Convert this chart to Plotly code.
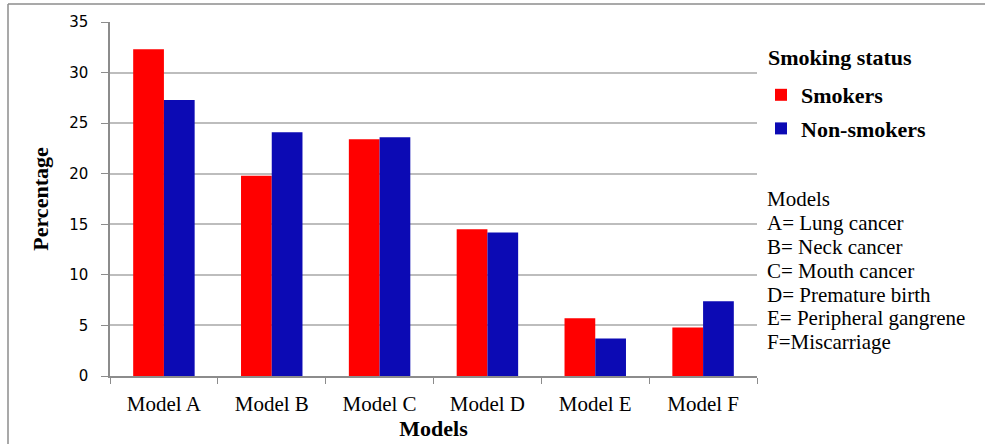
import plotly.graph_objects as go

# Percentages by model and smoking status
models = ["Model A", "Model B", "Model C", "Model D", "Model E", "Model F"]
smokers = [32.3, 19.8, 23.4, 14.5, 5.7, 4.8]
non_smokers = [27.3, 24.1, 23.6, 14.2, 3.7, 7.4]

legend_title = "Smoking status"
model_key_title = "Models"
model_key = [
    "A= Lung cancer",
    "B= Neck cancer",
    "C= Mouth cancer",
    "D= Premature birth",
    "E= Peripheral gangrene",
    "F=Miscarriage",
]

y_ticks = [0, 5, 10, 15, 20, 25, 30, 35]

W, H = 985, 444
L, R, T, B = 110, 228, 22, 68
plot_w = W - L - R
plot_h = H - T - B

serif = "Liberation Serif, Times New Roman, serif"
sans = "DejaVu Sans, Arial, sans-serif"
grid = "#bdbdbd"
axis_grey = "#8c8c8c"

fig = go.Figure()
fig.add_trace(go.Bar(
    x=models, y=smokers, name="Smokers", legendgroup="s",
    marker=dict(color="#ff0000", line=dict(width=0)),
))
fig.add_trace(go.Bar(
    x=models, y=non_smokers, name="Non-smokers", legendgroup="n",
    marker=dict(color="#0c0ab4", line=dict(width=0)),
))


def px_x(px):
    return (px - L) / plot_w


def px_y(py):
    return 1 - (py - T) / plot_h


annotations = [dict(
    text="<b>" + legend_title + "</b>", xref="paper", yref="paper",
    x=px_x(766), y=px_y(57), xanchor="left", yanchor="middle", showarrow=False,
    font=dict(family=serif, size=22, color="#000000"),
)]

# model key text beside the plot
key_lines = [(model_key_title, 199)] + list(zip(model_key, [223, 247, 271, 295, 318, 342]))
for text, yc in key_lines:
    annotations.append(dict(
        text=text, xref="paper", yref="paper", x=px_x(765), y=px_y(yc),
        xanchor="left", yanchor="middle", showarrow=False,
        font=dict(family=serif, size=21, color="#000000"),
    ))

# outer chart frame (top and left edges; the rest runs past the page)
shapes = [
    dict(type="line", xref="paper", yref="paper",
         x0=px_x(8), x1=px_x(W + 20), y0=px_y(4), y1=px_y(4),
         line=dict(color=axis_grey, width=1.5)),
    dict(type="line", xref="paper", yref="paper",
         x0=px_x(8), x1=px_x(8), y0=px_y(4), y1=px_y(H + 20),
         line=dict(color=axis_grey, width=1.5)),
]

fig.update_layout(
    width=W, height=H,
    margin=dict(l=L, r=R, t=T, b=B, pad=0),
    paper_bgcolor="#ffffff", plot_bgcolor="#ffffff",
    barmode="group", bargap=0.43, bargroupgap=0,
    showlegend=True,
    legend=dict(
        x=px_x(761), xanchor="left", y=px_y(74), yanchor="top",
        font=dict(family=serif, size=22, color="#000000", weight="bold"),
        tracegroupgap=2, bgcolor="rgba(0,0,0,0)",
    ),
    xaxis=dict(
        automargin=False,
        showgrid=False, showline=True, linecolor=axis_grey, linewidth=1.5,
        ticks="outside", tickson="boundaries", ticklen=6, tickcolor=axis_grey,
        tickfont=dict(family=serif, size=21, color="#000000"),
        ticklabelstandoff=8,
        title=dict(text="<b>Models</b>", standoff=6,
                   font=dict(family=serif, size=22, color="#000000")),
    ),
    yaxis=dict(
        automargin=False,
        range=[0, 35], tickvals=y_ticks, showgrid=True, gridcolor=grid, gridwidth=1.5,
        showline=True, linecolor=axis_grey, linewidth=1.5,
        ticks="outside", ticklen=7, tickcolor=axis_grey,
        tickfont=dict(family=sans, size=15, color="#000000"),
        ticklabelstandoff=10, zeroline=False,
        title=dict(text="<b>Percentage</b>", standoff=14,
                   font=dict(family=serif, size=22, color="#000000")),
    ),
    annotations=annotations,
    shapes=shapes,
)

fig.write_html("out.html")
